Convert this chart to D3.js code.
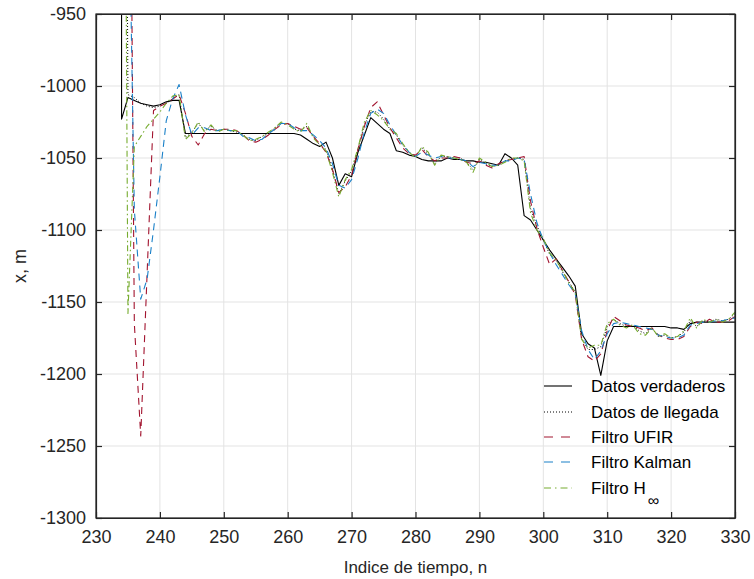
<!DOCTYPE html>
<html>
<head>
<meta charset="utf-8">
<script src="https://cdn.jsdelivr.net/npm/d3@7/dist/d3.min.js"></script>
<style>
  html, body { margin: 0; padding: 0; background: #fff; }
  svg { display: block; font-family: "Liberation Sans", Arial, Helvetica, sans-serif; }
</style>
</head>
<body>
<svg id="chart" width="754" height="579"></svg>
<script>
// Time index tick labels and position tick labels
const xTicks = [230, 240, 250, 260, 270, 280, 290, 300, 310, 320, 330];
const yTicks = [-1300, -1250, -1200, -1150, -1100, -1050, -1000, -950];

// True trajectory (starts from an off-scale initial value at n = 234)
const trueN = [234].concat(d3.range(234, 331));
const trueX = [-700,
  -1023, -1008, -1010, -1012, -1013, -1014, -1013, -1011, -1010, -1010,
  -1033, -1033, -1033, -1033, -1033, -1033, -1033, -1033, -1033, -1033,
  -1033, -1033, -1033, -1033, -1033, -1033, -1033, -1033, -1034, -1037,
  -1040, -1042, -1039, -1050, -1069, -1061, -1063, -1046, -1034, -1022,
  -1026, -1030, -1033, -1045, -1046, -1048, -1049, -1051, -1052, -1052,
  -1052, -1050, -1051, -1051, -1052, -1052, -1053, -1053, -1054, -1055,
  -1047, -1050, -1055, -1090, -1093, -1100, -1107, -1114, -1120, -1126,
  -1132, -1139, -1172, -1179, -1182, -1201, -1177, -1167, -1167, -1167,
  -1167, -1167, -1167, -1167, -1167, -1167, -1168, -1168, -1169, -1165,
  -1164, -1164, -1164, -1164, -1164, -1164, -1164];

// Arrival (measured) data, n = 234..330
const arrivalN = d3.range(234, 331);
const arrivalX = [-200,
  -1006, -1008, -1012, -1014, -1015, -1014, -1012, -1009, -1006,
  -1036, -1032, -1026, -1031, -1028, -1031, -1030, -1031, -1032, -1034,
  -1037, -1038, -1035, -1033, -1029, -1026, -1026, -1030, -1031, -1028,
  -1035, -1041, -1044, -1058, -1075, -1066, -1059, -1044, -1027, -1018,
  -1018, -1023, -1030, -1034, -1041, -1046, -1049, -1043, -1047, -1054,
  -1049, -1049, -1050, -1050, -1053, -1058, -1051, -1054, -1056, -1055,
  -1052, -1051, -1050, -1051, -1085, -1097, -1107, -1117, -1121, -1129,
  -1136, -1143, -1175, -1183, -1183, -1181, -1167, -1162, -1165, -1167,
  -1166, -1170, -1172, -1168, -1174, -1173, -1175, -1174, -1171, -1163,
  -1167, -1163, -1164, -1162, -1163, -1162, -1158];

// UFIR filter estimate, n = 235..330
const ufirN = d3.range(235, 331);
const ufirX = [-600,
  -1165, -1243, -1130, -1017, -1014, -1012, -1009, -1006,
  -1019, -1035, -1041, -1033, -1030, -1031, -1030, -1030, -1031, -1034,
  -1038, -1039, -1037, -1034, -1030, -1027, -1026, -1028, -1030, -1029,
  -1035, -1040, -1046, -1058, -1074, -1070, -1062, -1044, -1028, -1015,
  -1011, -1020, -1029, -1036, -1043, -1047, -1048, -1044, -1049, -1052,
  -1050, -1050, -1049, -1050, -1053, -1054, -1052, -1055, -1057, -1054,
  -1052, -1051, -1050, -1049, -1080, -1099, -1112, -1124, -1120, -1128,
  -1136, -1145, -1176, -1188, -1191, -1186, -1170, -1160, -1163, -1166,
  -1167, -1168, -1170, -1168, -1173, -1175, -1176, -1176, -1174, -1167,
  -1164, -1165, -1162, -1164, -1164, -1163, -1160];

// Kalman filter estimate, n = 235..330
const kalmanN = d3.range(235, 331);
const kalmanX = [-822,
  -1086, -1148, -1134, -1100, -1063, -1024, -1009, -999,
  -1020, -1034, -1029, -1029, -1031, -1031, -1030, -1031, -1031, -1035,
  -1036, -1038, -1037, -1033, -1030, -1026, -1026, -1029, -1031, -1031,
  -1034, -1038, -1043, -1054, -1069, -1071, -1065, -1050, -1032, -1019,
  -1016, -1019, -1027, -1034, -1041, -1046, -1049, -1046, -1048, -1050,
  -1049, -1050, -1050, -1051, -1052, -1056, -1053, -1054, -1055, -1055,
  -1052, -1052, -1050, -1051, -1075, -1095, -1107, -1116, -1124, -1131,
  -1138, -1144, -1170, -1183, -1190, -1184, -1172, -1165, -1164, -1165,
  -1166, -1167, -1168, -1169, -1173, -1174, -1175, -1175, -1173, -1166,
  -1165, -1164, -1164, -1163, -1163, -1162, -1161];

// H-infinity filter estimate, n = 234..330
const hinfN = d3.range(234, 331);
const hinfX = [-370,
  -1158, -1042, -1035, -1028, -1023, -1018, -1012, -1007, -1006,
  -1037, -1033, -1025, -1032, -1027, -1032, -1030, -1031, -1031, -1034,
  -1038, -1037, -1035, -1032, -1029, -1025, -1027, -1030, -1032, -1026,
  -1036, -1041, -1045, -1060, -1077, -1065, -1058, -1043, -1025, -1017,
  -1020, -1024, -1030, -1033, -1040, -1046, -1050, -1042, -1046, -1055,
  -1048, -1049, -1050, -1051, -1053, -1060, -1050, -1053, -1056, -1055,
  -1053, -1050, -1050, -1052, -1088, -1100, -1106, -1116, -1121, -1128,
  -1137, -1143, -1176, -1182, -1180, -1180, -1165, -1162, -1166, -1168,
  -1166, -1172, -1173, -1168, -1174, -1172, -1175, -1174, -1170, -1161,
  -1168, -1162, -1164, -1162, -1164, -1162, -1157];

const seriesNames = ["Datos verdaderos", "Datos de llegada", "Filtro UFIR", "Filtro Kalman", "Filtro H"];

const series = [
  { name: seriesNames[0], n: trueN, v: trueX, color: "#000000", dash: null, width: 1.1 },
  { name: seriesNames[1], n: arrivalN, v: arrivalX, color: "#000000", dash: "1,2", width: 1 },
  { name: seriesNames[2], n: ufirN, v: ufirX, color: "#A2142F", dash: "7,5", width: 1.1 },
  { name: seriesNames[3], n: kalmanN, v: kalmanX, color: "#1A80C8", dash: "7,5", width: 1.1 },
  { name: seriesNames[4], n: hinfN, v: hinfX, color: "#77AC30", dash: "6,3,1.5,3", width: 1.1 }
];

const svg = d3.select("#chart");
const L = 96, R = 735, T = 14, B = 518;
const x = d3.scaleLinear().domain([230, 330]).range([L, R]);
const y = d3.scaleLinear().domain([-1300, -950]).range([B, T]);
const axisColor = "#262626";

// grid
const grid = svg.append("g");
grid.selectAll("line.gx").data(xTicks).join("line")
  .attr("x1", d => x(d)).attr("x2", d => x(d)).attr("y1", T).attr("y2", B)
  .attr("stroke", "#e3e3e3").attr("stroke-width", 1);
grid.selectAll("line.gy").data(yTicks).join("line")
  .attr("x1", L).attr("x2", R).attr("y1", d => y(d)).attr("y2", d => y(d))
  .attr("stroke", "#e3e3e3").attr("stroke-width", 1);

// data lines clipped to the plot area
svg.append("clipPath").attr("id", "plotclip")
  .append("rect").attr("x", L).attr("y", T).attr("width", R - L).attr("height", B - T);
const lines = svg.append("g").attr("clip-path", "url(#plotclip)");
const lineGen = d3.line().x(d => x(d[0])).y(d => y(d[1]));
series.forEach(s => {
  const pts = s.n.map((n, i) => [n, s.v[i]]);
  lines.append("path").datum(pts)
    .attr("d", lineGen)
    .attr("fill", "none")
    .attr("stroke", s.color)
    .attr("stroke-width", s.width)
    .attr("stroke-dasharray", s.dash)
    .attr("stroke-linejoin", "round");
});

// axes: inward ticks on all four sides
const tickLen = 6;
const fmt = d => d3.format("d")(d).replace("\u2212", "-");
const axBottom = svg.append("g").attr("transform", `translate(0,${B})`)
  .call(d3.axisBottom(x).tickValues(xTicks).tickSizeInner(-tickLen).tickSizeOuter(0).tickPadding(12).tickFormat(fmt));
const axTop = svg.append("g").attr("transform", `translate(0,${T})`)
  .call(d3.axisTop(x).tickValues(xTicks).tickSizeInner(-tickLen).tickSizeOuter(0).tickFormat(""));
const axLeft = svg.append("g").attr("transform", `translate(${L},0)`)
  .call(d3.axisLeft(y).tickValues(yTicks).tickSizeInner(-tickLen).tickSizeOuter(0).tickPadding(10).tickFormat(fmt));
const axRight = svg.append("g").attr("transform", `translate(${R},0)`)
  .call(d3.axisRight(y).tickValues(yTicks).tickSizeInner(-tickLen).tickSizeOuter(0).tickFormat(""));
[axBottom, axTop, axLeft, axRight].forEach(g => {
  g.select(".domain").attr("stroke", axisColor).attr("stroke-width", 1.2);
  g.selectAll(".tick line").attr("stroke", axisColor).attr("stroke-width", 1.2);
  g.selectAll(".tick text").attr("fill", "#262626").attr("font-size", 18)
    .attr("font-family", "'Liberation Sans', Arial, sans-serif");
});
// box outline
svg.append("rect").attr("x", L).attr("y", T).attr("width", R - L).attr("height", B - T)
  .attr("fill", "none").attr("stroke", axisColor).attr("stroke-width", 1.2);

// axis titles
svg.append("text").attr("x", (L + R) / 2).attr("y", 573)
  .attr("text-anchor", "middle").attr("font-size", 17).attr("fill", "#262626")
  .text("Indice de tiempo, n");
svg.append("text").attr("transform", `translate(26,${(T + B) / 2}) rotate(-90)`)
  .attr("text-anchor", "middle").attr("font-size", 18).attr("fill", "#262626")
  .text("x, m");

// legend
const legend = svg.append("g");
const rowY = [386, 412, 437, 462, 488];
series.forEach((s, i) => {
  const yy = rowY[i];
  legend.append("line")
    .attr("x1", 544).attr("x2", 572).attr("y1", yy).attr("y2", yy)
    .attr("stroke", s.color).attr("stroke-width", s.width)
    .attr("stroke-dasharray", i >= 2 ? (i === 4 ? "7,4,1.5,4" : "9,8") : s.dash);
  const t = legend.append("text").attr("x", 591).attr("y", yy + 6)
    .attr("font-size", 17).attr("fill", "#000");
  t.append("tspan").text(s.name);
  if (i === 4) {
    t.append("tspan").attr("dx", 2).attr("dy", 12).attr("font-size", 16).text("\u221E");
  }
});
</script>
</body>
</html>
